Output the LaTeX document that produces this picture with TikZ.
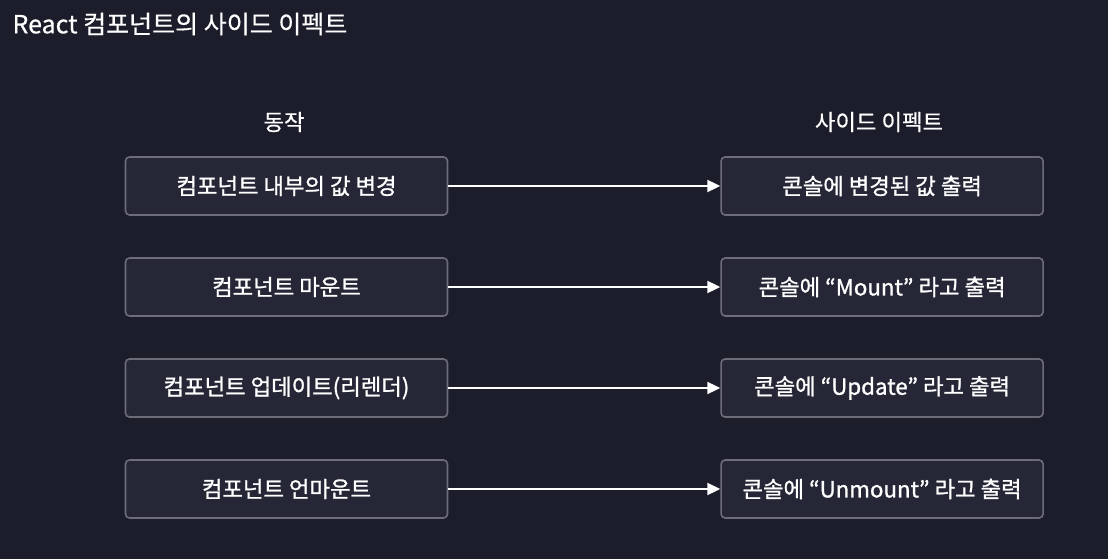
\documentclass[tikz,border=0pt]{standalone}
\usepackage{fontspec}
\setmainfont{Noto Sans CJK KR}
\newfontfamily\krsemi{Noto Sans CJK KR}[FakeBold=1.1]
\newfontfamily\krmed{Noto Sans CJK KR}[FakeBold=0.4]
\usepackage{tikz}
\usetikzlibrary{arrows.meta,positioning}
\definecolor{BgColor}{HTML}{1C1D2B}
\definecolor{BoxFill}{HTML}{252636}
\definecolor{BoxLine}{HTML}{6C6D79}

\begin{document}
\begin{tikzpicture}[
    x=1pt, y=-1pt,
    node distance=41.4pt and 272pt,
    actbox/.style={rectangle, draw=BoxLine, fill=BoxFill, line width=1.6pt, rounded corners=4pt, minimum width=322pt, minimum height=58pt, align=center, text=white, font=\krsemi\fontsize{22.3}{26}\selectfont},
    head/.style={text=white, font=\krmed\fontsize{22.3}{26}\selectfont},
    arrow/.style={-{Triangle[length=13pt,width=12pt]}, line width=2pt, draw=white}
]
    \useasboundingbox[fill=BgColor] (0,0) rectangle (1108,559);
    \node[anchor=west, text=white, font=\krmed\fontsize{25}{29}\selectfont] (title) at (9,24) {React 컴포넌트의 사이드 이펙트};

    \node[head] (hact) at (284,122) {동작};
    \node[head] (heff) at (879,122) {사이드 이펙트};

    \node[actbox] (act1) at (286.5,186) {컴포넌트 내부의 값 변경};
    \node[actbox, below=of act1] (act2) {컴포넌트 마운트};
    \node[actbox, below=of act2] (act3) {컴포넌트 업데이트(리렌더)};
    \node[actbox, below=of act3] (act4) {컴포넌트 언마운트};

    \node[actbox, right=of act1] (eff1) {콘솔에 변경된 값 출력};
    \node[actbox, right=of act2] (eff2) {콘솔에 “Mount” 라고 출력};
    \node[actbox, right=of act3] (eff3) {콘솔에 “Update” 라고 출력};
    \node[actbox, right=of act4] (eff4) {콘솔에 “Unmount” 라고 출력};

    \draw[arrow] (act1) -- (eff1);
    \draw[arrow] (act2) -- (eff2);
    \draw[arrow] (act3) -- (eff3);
    \draw[arrow] (act4) -- (eff4);
\end{tikzpicture}
\end{document}
